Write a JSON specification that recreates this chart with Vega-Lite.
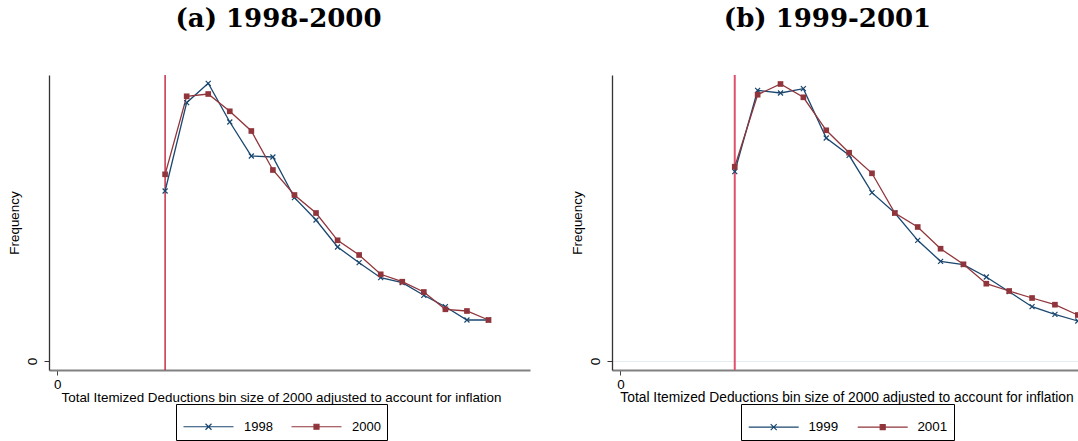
{
  "$schema": "https://vega.github.io/schema/vega-lite/v6.json",
  "background": "white",
  "padding": {"left": 7, "top": 6, "right": 0, "bottom": 0},
  "spacing": 40,
  "config": {
    "view": {"stroke": null},
    "font": "Liberation Sans",
    "axis": {"labelFont": "Liberation Sans", "titleFont": "Liberation Sans", "labelColor": "black", "titleColor": "black", "titleFontWeight": "normal", "grid": false}
  },
  "resolve": {"scale": {"x": "independent", "y": "independent", "color": "independent"}, "legend": {"color": "independent"}},
  "hconcat": [
    {
      "width": 481,
      "height": 295,
      "title": {"text": "(a)  1998-2000", "font": "DejaVu Serif", "fontSize": 26, "fontWeight": "bold", "color": "black", "anchor": "middle", "frame": "group", "dx": -11, "offset": 21, "baseline": "alphabetic"},
      "layer": [
        {
          "data": {"values": [{"cut": 10000}]},
          "mark": {"type": "rule", "color": "#c0102e", "strokeWidth": 1.3},
          "encoding": {
            "x": {"field": "cut", "type": "quantitative", "scale": {"domain": [-770, 43850], "nice": false, "zero": false},
              "axis": {"values": [0], "title": "Total Itemized Deductions bin size of 2000 adjusted to account for inflation", "labelFontSize": 13.4, "titleFontSize": 13.4, "tickSize": 5, "labelPadding": 2, "titlePadding": 0, "titleX": 232, "titleAlign": "center", "domainColor": "#808080", "domainWidth": 2, "tickColor": "#444", "tickWidth": 1}}
          }
        },
        {
          "data": {"values": [
            {"bin": 10000, "series": "1998", "freq": 170}, {"bin": 12000, "series": "1998", "freq": 258.3}, {"bin": 14000, "series": "1998", "freq": 277.7}, {"bin": 16000, "series": "1998", "freq": 239},
            {"bin": 18000, "series": "1998", "freq": 205}, {"bin": 20000, "series": "1998", "freq": 204}, {"bin": 22000, "series": "1998", "freq": 163.3}, {"bin": 24000, "series": "1998", "freq": 141},
            {"bin": 26000, "series": "1998", "freq": 114}, {"bin": 28000, "series": "1998", "freq": 98.3}, {"bin": 30000, "series": "1998", "freq": 83.3}, {"bin": 32000, "series": "1998", "freq": 78.3},
            {"bin": 34000, "series": "1998", "freq": 65.7}, {"bin": 36000, "series": "1998", "freq": 54.3}, {"bin": 38000, "series": "1998", "freq": 41}, {"bin": 40000, "series": "1998", "freq": 41},
            {"bin": 10000, "series": "2000", "freq": 186.7}, {"bin": 12000, "series": "2000", "freq": 264.7}, {"bin": 14000, "series": "2000", "freq": 267}, {"bin": 16000, "series": "2000", "freq": 249.7},
            {"bin": 18000, "series": "2000", "freq": 230}, {"bin": 20000, "series": "2000", "freq": 191}, {"bin": 22000, "series": "2000", "freq": 166}, {"bin": 24000, "series": "2000", "freq": 148},
            {"bin": 26000, "series": "2000", "freq": 120.7}, {"bin": 28000, "series": "2000", "freq": 106}, {"bin": 30000, "series": "2000", "freq": 86.7}, {"bin": 32000, "series": "2000", "freq": 79.3},
            {"bin": 34000, "series": "2000", "freq": 69}, {"bin": 36000, "series": "2000", "freq": 51.7}, {"bin": 38000, "series": "2000", "freq": 50}, {"bin": 40000, "series": "2000", "freq": 41}
          ]},
          "encoding": {
            "x": {"field": "bin", "type": "quantitative"},
            "y": {"field": "freq", "type": "quantitative", "scale": {"domain": [-9, 286], "nice": false, "zero": false},
              "axis": {"values": [0], "title": "Frequency", "labelFontSize": 13.4, "titleFontSize": 13.4, "labelAngle": -90, "labelAlign": "center", "labelBaseline": "alphabetic", "tickSize": 5, "labelPadding": 8, "titlePadding": 4, "domainColor": "#333", "domainWidth": 1.3, "tickColor": "#333", "tickWidth": 1}}
          },
          "layer": [
            {
              "mark": {"type": "line", "strokeWidth": 1.3},
              "encoding": {
                "color": {"field": "series", "type": "nominal", "scale": {"domain": ["1998", "2000"], "range": ["#1a476f", "#90353b"]},
                  "legend": {"orient": "none", "legendX": 127, "legendY": 329, "direction": "horizontal", "title": " ", "titleFontSize": 7, "titlePadding": 3, "symbolSize": 100, "symbolOffset": 20, "symbolStrokeWidth": 1.2, "labelFont": "Liberation Sans", "labelFontSize": 13, "labelColor": "black", "labelOffset": 29, "columnPadding": 16, "padding": 6, "strokeColor": "black",
                    "encode": {"symbols": {"update": {
                      "shape": {"signal": "datum.value === '1998' ? 'M-5,0H5M-0.6,-0.6L0.6,0.6M-0.6,0.6L0.6,-0.6' : 'M-5,0H5M-0.5,-0.5H0.5V0.5H-0.5Z'"},
                      "fill": {"signal": "datum.value === '1998' ? '#1a476f' : '#90353b'"},
                      "stroke": {"signal": "datum.value === '1998' ? '#1a476f' : '#90353b'"}
                    }}}}}
              }
            },
            {
              "transform": [{"filter": {"field": "series", "equal": "1998"}}],
              "mark": {"type": "point", "shape": "M-1,-1L1,1M-1,1L1,-1", "filled": false, "stroke": "#1a476f", "strokeWidth": 1.2, "size": 25, "opacity": 1}
            },
            {
              "transform": [{"filter": {"field": "series", "equal": "2000"}}],
              "mark": {"type": "square", "color": "#90353b", "size": 32, "opacity": 1}
            }
          ]
        }
      ]
    },
    {
      "width": 469,
      "height": 295,
      "title": {"text": "(b)  1999-2001", "font": "DejaVu Serif", "fontSize": 26, "fontWeight": "bold", "color": "black", "anchor": "middle", "frame": "group", "dx": -19, "offset": 21, "baseline": "alphabetic"},
      "layer": [
        {
          "data": {"values": [{"cut": 10000}]},
          "mark": {"type": "rule", "color": "#e0506e", "strokeWidth": 2},
          "encoding": {
            "x": {"field": "cut", "type": "quantitative", "scale": {"domain": [-735, 40280], "nice": false, "zero": false},
              "axis": {"values": [0], "title": "Total Itemized Deductions bin size of 2000 adjusted to account for inflation", "labelFontSize": 13.4, "titleFontSize": 13.8, "tickSize": 5, "labelPadding": 2, "titlePadding": 0, "domainColor": "#808080", "domainWidth": 2, "tickColor": "#444", "tickWidth": 1}}
          }
        },
        {
          "data": {"values": [
            {"bin": 10000, "series": "1999", "freq": 189.3}, {"bin": 12000, "series": "1999", "freq": 270.7}, {"bin": 14000, "series": "1999", "freq": 268}, {"bin": 16000, "series": "1999", "freq": 272.3},
            {"bin": 18000, "series": "1999", "freq": 223}, {"bin": 20000, "series": "1999", "freq": 205.7}, {"bin": 22000, "series": "1999", "freq": 168.3}, {"bin": 24000, "series": "1999", "freq": 148},
            {"bin": 26000, "series": "1999", "freq": 120.7}, {"bin": 28000, "series": "1999", "freq": 99.7}, {"bin": 30000, "series": "1999", "freq": 96.3}, {"bin": 32000, "series": "1999", "freq": 84},
            {"bin": 34000, "series": "1999", "freq": 69.3}, {"bin": 36000, "series": "1999", "freq": 54.3}, {"bin": 38000, "series": "1999", "freq": 46.7}, {"bin": 40000, "series": "1999", "freq": 40},
            {"bin": 10000, "series": "2001", "freq": 194.3}, {"bin": 12000, "series": "2001", "freq": 266.3}, {"bin": 14000, "series": "2001", "freq": 277}, {"bin": 16000, "series": "2001", "freq": 263.7},
            {"bin": 18000, "series": "2001", "freq": 230.7}, {"bin": 20000, "series": "2001", "freq": 208.3}, {"bin": 22000, "series": "2001", "freq": 187.7}, {"bin": 24000, "series": "2001", "freq": 148},
            {"bin": 26000, "series": "2001", "freq": 134}, {"bin": 28000, "series": "2001", "freq": 112.3}, {"bin": 30000, "series": "2001", "freq": 96.7}, {"bin": 32000, "series": "2001", "freq": 77.3},
            {"bin": 34000, "series": "2001", "freq": 70}, {"bin": 36000, "series": "2001", "freq": 63}, {"bin": 38000, "series": "2001", "freq": 56.3}, {"bin": 40000, "series": "2001", "freq": 46}
          ]},
          "encoding": {
            "x": {"field": "bin", "type": "quantitative"},
            "y": {"field": "freq", "type": "quantitative", "scale": {"domain": [-9, 286], "nice": false, "zero": false},
              "axis": {"values": [0], "title": "Frequency", "labelFontSize": 13.4, "titleFontSize": 13.4, "labelAngle": -90, "labelAlign": "center", "labelBaseline": "alphabetic", "tickSize": 5, "labelPadding": 8, "titlePadding": 4, "domainColor": "#333", "domainWidth": 1.3, "tickColor": "#333", "tickWidth": 1, "grid": true, "gridColor": "#e4edf1", "gridWidth": 1.2}}
          },
          "layer": [
            {
              "mark": {"type": "line", "strokeWidth": 1.3, "clip": true},
              "encoding": {
                "color": {"field": "series", "type": "nominal", "scale": {"domain": ["1999", "2001"], "range": ["#1a476f", "#90353b"]},
                  "legend": {"orient": "none", "legendX": 129, "legendY": 329, "direction": "horizontal", "title": " ", "titleFontSize": 7, "titlePadding": 3, "symbolSize": 100, "symbolOffset": 20, "symbolStrokeWidth": 1.2, "labelFont": "Liberation Sans", "labelFontSize": 13.4, "labelColor": "black", "labelOffset": 28, "columnPadding": 16, "padding": 6, "strokeColor": "black",
                    "encode": {"symbols": {"update": {
                      "shape": {"signal": "datum.value === '1999' ? 'M-5,0H5M-0.6,-0.6L0.6,0.6M-0.6,0.6L0.6,-0.6' : 'M-5,0H5M-0.5,-0.5H0.5V0.5H-0.5Z'"},
                      "fill": {"signal": "datum.value === '1999' ? '#1a476f' : '#90353b'"},
                      "stroke": {"signal": "datum.value === '1999' ? '#1a476f' : '#90353b'"}
                    }}}}}
              }
            },
            {
              "transform": [{"filter": {"field": "series", "equal": "1999"}}],
              "mark": {"type": "point", "shape": "M-1,-1L1,1M-1,1L1,-1", "filled": false, "stroke": "#1a476f", "strokeWidth": 1.2, "size": 25, "opacity": 1, "clip": true}
            },
            {
              "transform": [{"filter": {"field": "series", "equal": "2001"}}],
              "mark": {"type": "square", "color": "#90353b", "size": 32, "opacity": 1, "clip": true}
            }
          ]
        }
      ]
    }
  ]
}
